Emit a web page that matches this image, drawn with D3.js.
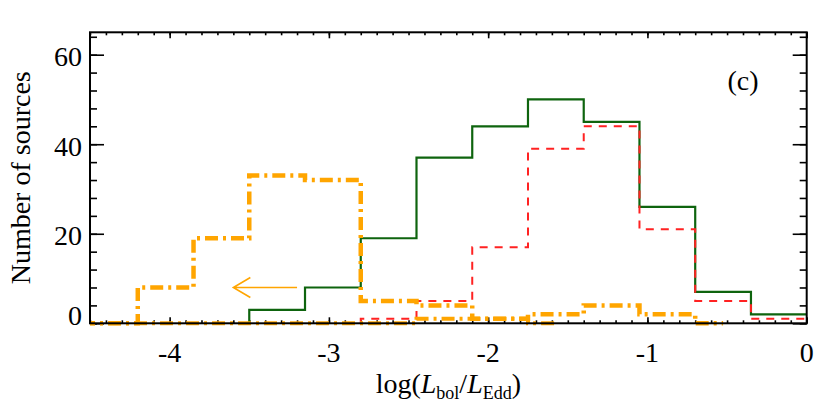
<!DOCTYPE html>
<html><head><meta charset="utf-8">
<script src="https://cdn.jsdelivr.net/npm/d3@7"></script>
<style>
body{margin:0;background:#fff}
text{font-family:"Liberation Serif","Times New Roman",serif;fill:#000}
</style>
</head><body>
<svg id="c" width="830" height="406"></svg>
<script>
// ---- data ----
const binEdges = [-4.55,-4.2,-3.85,-3.5,-3.15,-2.8,-2.45,-2.1,-1.75,-1.4,-1.05,-0.7,-0.35,0];
const greenCounts  = [null,null,null,3,8,19,37,44,50,45,26,7,2];
const redCounts    = [null,null,null,null,null,1,5,17,39,44,21,5,1];
const orangeAllCounts = [0,8,19,33,32,5,4,1,2,4,2,0,null];
const orangeDetCounts = [0,0,0,0,0,0,1,1,0,null,null,null,null];
const xTickValues = [-4,-3,-2,-1,0];
const xTickLabels = ["-4","-3","-2","-1","0"];
const yTickValues = [0,20,40,60];
const yTickLabels = ["0","20","40","60"];
const arrowStart = [-3.2, 8];
const arrowEnd = [-3.6, 8];
const panelLabel = "(c)";

// ---- layout ----
const svg = d3.select("#c");
const L = 90, R = 806.7, T = 32.3, B = 323.3;
const x = d3.scaleLinear().domain([-4.5, 0]).range([L, R]);
const y = d3.scaleLinear().domain([0, 65]).range([B, T]);

// ticks
function ax(gen, tr){ const g = svg.append("g").attr("transform", tr).call(gen);
  g.select(".domain").remove(); g.selectAll("line").attr("stroke","#000").attr("stroke-width",1.6); g.selectAll("text").remove(); return g; }
const xMinor = d3.range(-45, 1).map(d => d/10);
const yMinor = d3.range(0, 65, 4);
ax(d3.axisBottom(x).tickValues(xMinor).tickSize(-3), `translate(0,${B})`);
ax(d3.axisBottom(x).tickValues(xTickValues).tickSize(-6), `translate(0,${B})`);
ax(d3.axisTop(x).tickValues(xMinor).tickSize(-3), `translate(0,${T})`);
ax(d3.axisTop(x).tickValues(xTickValues).tickSize(-6), `translate(0,${T})`);
ax(d3.axisLeft(y).tickValues(yMinor).tickSize(-7), `translate(${L},0)`);
ax(d3.axisLeft(y).tickValues(yTickValues).tickSize(-14), `translate(${L},0)`);
ax(d3.axisRight(y).tickValues(yMinor).tickSize(-7), `translate(${R},0)`);
ax(d3.axisRight(y).tickValues(yTickValues).tickSize(-14), `translate(${R},0)`);

// clip
svg.append("clipPath").attr("id","clip").append("rect")
  .attr("x", L).attr("y", T).attr("width", R-L).attr("height", B-T+4);

function stepPath(vals, halfLast){
  const first = vals.findIndex(v => v !== null);
  let last = vals.length-1; while (vals[last] === null) last--;
  const p = d3.path();
  p.moveTo(x(binEdges[first]), y(0));
  for (let i = first; i <= last; i++){
    const v = vals[i];
    p.lineTo(x(binEdges[i]), y(v));
    const xe = (i === last && halfLast) ? (binEdges[i]+binEdges[i+1])/2 : binEdges[i+1];
    p.lineTo(x(xe), y(v));
  }
  return p.toString();
}
const gd = svg.append("g").attr("clip-path","url(#clip)");
gd.append("path").attr("d", stepPath(greenCounts,false)).attr("fill","none")
  .attr("stroke","#0e640e").attr("stroke-width",2.2);
gd.append("path").attr("d", stepPath(redCounts,false)).attr("fill","none")
  .attr("stroke","#ff2222").attr("stroke-width",2).attr("stroke-dasharray","8,7");
gd.append("path").attr("d", stepPath(orangeDetCounts,true)).attr("fill","none")
  .attr("stroke","#ffa500").attr("stroke-width",4).attr("stroke-dasharray","13,5,3,5");
gd.append("path").attr("d", stepPath(orangeAllCounts,true)).attr("fill","none")
  .attr("stroke","#ffa500").attr("stroke-width",4.5).attr("stroke-dasharray","13,5,3,5");

// arrow
const ax0 = x(arrowStart[0]), ay = y(arrowStart[1]), ax1 = x(arrowEnd[0]);
svg.append("path").attr("d", `M${ax0},${ay}H${ax1}M${ax1+17},${ay-10}L${ax1},${ay}L${ax1+17},${ay+10}`)
  .attr("fill","none").attr("stroke","#ffa500").attr("stroke-width",1.6);

// frame
svg.append("rect").attr("x",L).attr("y",T).attr("width",R-L).attr("height",B-T)
  .attr("fill","none").attr("stroke","#000").attr("stroke-width",2);

// tick labels
svg.selectAll(".xl").data(xTickValues).join("text").attr("class","xl")
  .attr("x", d => x(d)).attr("y", 362).attr("text-anchor","middle")
  .attr("font-size", 28).text((d,i) => xTickLabels[i]);
svg.selectAll(".yl").data(yTickValues).join("text").attr("class","yl")
  .attr("x", 82).attr("y", d => d === 0 ? y(d) + 2 : y(d) + 11.5).attr("text-anchor","end")
  .attr("font-size", 28).text((d,i) => yTickLabels[i]);

// axis titles
svg.append("text").attr("transform", `translate(30,${(T+B)/2}) rotate(-90)`)
  .attr("text-anchor","middle").attr("font-size",28).text("Number of sources");
const xt = svg.append("text").attr("x",(L+R)/2).attr("y",393).attr("text-anchor","middle").attr("font-size",28);
xt.append("tspan").text("log(");
xt.append("tspan").attr("font-style","italic").text("L");
xt.append("tspan").attr("font-size",18).attr("dy",6).text("bol");
xt.append("tspan").attr("dy",-6).text("/");
xt.append("tspan").attr("font-style","italic").text("L");
xt.append("tspan").attr("font-size",18).attr("dy",6).text("Edd");
xt.append("tspan").attr("dy",-6).text(")");

svg.append("text").attr("x",743).attr("y",90).attr("text-anchor","middle").attr("font-size",28).text(panelLabel);
</script>
</body></html>
